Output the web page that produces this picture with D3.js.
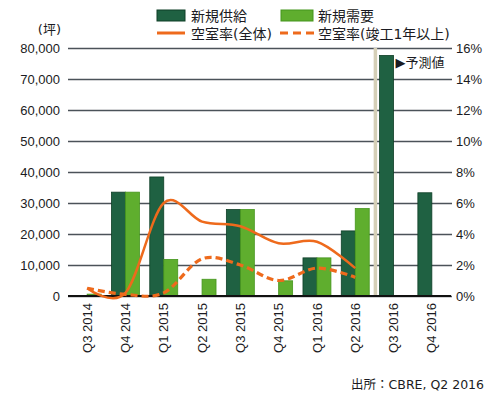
<!DOCTYPE html>
<html>
<head>
<meta charset="utf-8">
<script src="https://cdn.jsdelivr.net/npm/d3@7"></script>
<style>
  body { margin: 0; background: #fff; }
  svg { display: block; font-family: "DejaVu Sans", "Noto Sans CJK JP", sans-serif; }
</style>
</head>
<body>
<svg id="chart" width="500" height="399"></svg>
<script>
// quarters
var quarters = ["Q3 2014", "Q4 2014", "Q1 2015", "Q2 2015", "Q3 2015", "Q4 2015", "Q1 2016", "Q2 2016", "Q3 2016", "Q4 2016"];
// 新規供給 / 新規需要 (坪)
var supply = [0, 33500, 38400, 0, 27900, 0, 12300, 21000, 77600, 33300];
var demand = [600, 33500, 11800, 5400, 27900, 4900, 12300, 28200, 0, 0];
// 空室率 (%), only up to Q2 2016
var vacancyAll = [0.5, 0.2, 6.0, 4.8, 4.5, 3.4, 3.5, 1.8];
var vacancyOld = [0.5, 0.1, 0.2, 2.4, 2.0, 1.0, 1.8, 1.2];
var leftTicks = [0, 10000, 20000, 30000, 40000, 50000, 60000, 70000, 80000];
var rightTicks = [0, 2, 4, 6, 8, 10, 12, 14, 16];

var margin = {top: 48, right: 49, bottom: 103, left: 68};
var W = 500, H = 399;
var width = W - margin.left - margin.right;
var height = H - margin.top - margin.bottom;

var svg = d3.select("#chart");
var g = svg.append("g").attr("transform", "translate(" + margin.left + "," + margin.top + ")");

var x = d3.scaleBand().domain(quarters).range([0, width]).padding(0);
var x1 = d3.scaleBand().domain(["supply", "demand"]).range([0, x.bandwidth()]).paddingOuter(0.37);
var y = d3.scaleLinear().domain([0, 80000]).range([height, 0]);
var y2 = d3.scaleLinear().domain([0, 16]).range([height, 0]);

var darkG = "#1f6142", darkEdge = "#0f3f27";
var lightG = "#5fae2e", lightEdge = "#45951d";
var orange = "#ee6a1c";
var textCol = "#1b1b22";

// left axis + grid
var ax = g.append("g")
  .call(d3.axisLeft(y).tickValues(leftTicks).tickSize(-width - 1).tickPadding(8).tickFormat(d3.format(",")));
ax.select(".domain").remove();
ax.selectAll("line").attr("stroke", "#4b5259").attr("stroke-width", 1.6);
ax.selectAll("text").attr("fill", textCol).style("font-size", "13px");

// right axis
var ax2 = g.append("g").attr("transform", "translate(" + width + ",0)")
  .call(d3.axisRight(y2).tickValues(rightTicks).tickSize(0).tickPadding(5).tickFormat(function(d) { return d + "%"; }));
ax2.select(".domain").remove();
ax2.selectAll("text").attr("fill", textCol).style("font-size", "13px");

// forecast divider
g.append("line")
  .attr("x1", x("Q3 2016") + 1).attr("x2", x("Q3 2016") + 1)
  .attr("y1", 0).attr("y2", height)
  .attr("stroke", "#d5cfb7").attr("stroke-width", 3.5);

// bars
var grp = g.selectAll(".q").data(quarters).enter().append("g")
  .attr("transform", function(d) { return "translate(" + x(d) + ",0)"; });

grp.append("rect")
  .attr("x", x1("supply"))
  .attr("width", x1.bandwidth())
  .attr("y", function(d, i) { return y(supply[i]); })
  .attr("height", function(d, i) { return height - y(supply[i]); })
  .attr("fill", darkG).attr("stroke", darkEdge).attr("stroke-width", 0.8);

grp.append("rect")
  .attr("x", x1("demand"))
  .attr("width", x1.bandwidth())
  .attr("y", function(d, i) { return y(demand[i]); })
  .attr("height", function(d, i) { return height - y(demand[i]); })
  .attr("fill", lightG).attr("stroke", lightEdge).attr("stroke-width", 0.8);

// baseline
g.append("line").attr("x1", 0).attr("x2", width).attr("y1", height).attr("y2", height)
  .attr("stroke", "#111").attr("stroke-width", 2);

// vacancy lines
var line = d3.line()
  .x(function(d, i) { return x(quarters[i]) + x.bandwidth() / 2; })
  .y(function(d) { return y2(d); })
  .curve(d3.curveCardinal);

g.append("path").datum(vacancyAll).attr("d", line)
  .attr("fill", "none").attr("stroke", orange).attr("stroke-width", 2.5);
g.append("path").datum(vacancyOld).attr("d", line)
  .attr("fill", "none").attr("stroke", orange).attr("stroke-width", 3.2)
  .attr("stroke-dasharray", "7,4");

// x labels
var xl = g.append("g").attr("transform", "translate(0," + height + ")")
  .call(d3.axisBottom(x).tickSize(0).tickPadding(0));
xl.select(".domain").remove();
xl.selectAll("text")
  .attr("fill", textCol).style("font-size", "13px")
  .attr("text-anchor", "end")
  .attr("transform", "rotate(-90)")
  .attr("x", -7).attr("y", 0).attr("dy", "0.35em");

// forecast label
svg.append("text").attr("x", margin.left + x("Q3 2016") + 21).attr("y", 67)
  .attr("fill", textCol).style("font-size", "13px").text("▶予測値");

// unit
svg.append("text").attr("x", 61).attr("y", 34).attr("text-anchor", "end")
  .attr("fill", textCol).style("font-size", "13px").text("(坪)");

// legend
var lg = svg.append("g");
lg.append("rect").attr("x", 157).attr("y", 10).attr("width", 28).attr("height", 11)
  .attr("fill", darkG).attr("stroke", darkEdge);
lg.append("text").attr("x", 191).attr("y", 21).attr("fill", textCol).style("font-size", "14px").text("新規供給");
lg.append("rect").attr("x", 281).attr("y", 10).attr("width", 32).attr("height", 11)
  .attr("fill", lightG).attr("stroke", lightEdge);
lg.append("text").attr("x", 318).attr("y", 21).attr("fill", textCol).style("font-size", "14px").text("新規需要");
lg.append("line").attr("x1", 157).attr("x2", 185).attr("y1", 33).attr("y2", 33)
  .attr("stroke", orange).attr("stroke-width", 3);
lg.append("text").attr("x", 191).attr("y", 39).attr("fill", textCol).style("font-size", "14px").text("空室率(全体)");
lg.append("line").attr("x1", 280).attr("x2", 314).attr("y1", 33).attr("y2", 33)
  .attr("stroke", orange).attr("stroke-width", 3).attr("stroke-dasharray", "8,5");
lg.append("text").attr("x", 318).attr("y", 39).attr("fill", textCol).style("font-size", "14px").text("空室率(竣工1年以上)");

// source
svg.append("text").attr("x", 484).attr("y", 389).attr("text-anchor", "end")
  .attr("fill", textCol).style("font-size", "12.5px").text("出所：CBRE, Q2 2016");
</script>
</body>
</html>
